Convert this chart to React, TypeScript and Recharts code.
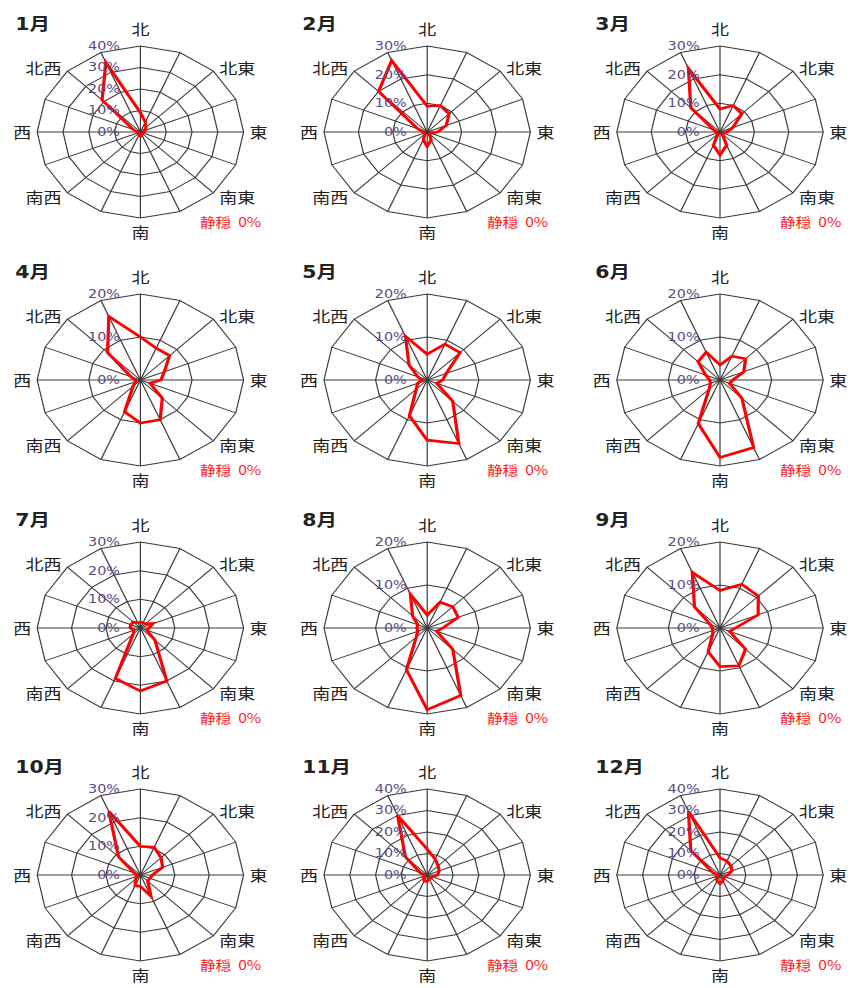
import { RadarChart, Radar, PolarGrid, PolarAngleAxis, PolarRadiusAxis } from 'recharts';

// 16 wind directions, clockwise from north
const directions = ['北', '北北東', '北東', '東北東', '東', '東南東', '南東', '南南東', '南', '南南西', '南西', '西南西', '西', '西北西', '北西', '北北西'];
const shownLabels = ['北', '北東', '東', '南東', '南', '南西', '西', '北西'];

const months = ['1月', '2月', '3月', '4月', '5月', '6月', '7月', '8月', '9月', '10月', '11月', '12月'];
const maxPercent = [40, 30, 30, 20, 20, 20, 30, 20, 20, 30, 40, 40];
const calmPercent = [0, 0, 0, 0, 0, 0, 0, 0, 0, 0, 0, 0];

// frequency (%) per direction, same order as directions
const jan = [9, 5, 3, 2, 1.5, 1, 1, 1, 2, 1.5, 1, 1, 1, 3, 21, 35];
const feb = [9, 10, 9, 6, 3, 1, 1, 3, 5, 3, 1, 1, 1, 3, 20, 27];
const mar = [8, 10, 9, 4, 2, 1, 1, 5, 8, 5, 1, 1, 1, 2, 12, 24];
const apr = [10, 8, 8, 5, 4, 2, 6, 10, 10, 8, 2, 1, 1, 2, 9, 16];
const may = [6, 9, 9, 4, 3, 2, 7, 16, 14, 9, 3, 2, 1, 2, 5, 11];
const jun = [3.5, 6, 7, 5, 2.5, 2, 6, 17, 18, 11, 3, 2, 2, 3, 6, 7];
const jul = [2, 2, 2, 4, 2.5, 2, 6, 20, 22, 19, 3, 2, 3, 3, 3, 2];
const aug = [3, 6.5, 7, 6.5, 3, 2, 7, 17, 19, 10.5, 3, 2, 2, 2, 4, 8.5];
const sep = [8.7, 11, 10.5, 8, 3, 2, 7, 9.5, 9, 6, 2, 1.5, 1.5, 2, 7, 14];
const oct = [10, 10.5, 8.5, 7, 3.5, 3, 3, 8, 4, 4, 2, 1, 1, 2, 9, 24];
const nov = [12, 8, 6, 5, 4, 2, 2, 2, 3, 3, 2, 1, 1, 3, 12, 30];
const dec = [8, 7, 6, 5, 3, 2, 2, 3, 4, 3, 2, 1, 1, 3, 16, 32];

const monthValues = [jan, feb, mar, apr, may, jun, jul, aug, sep, oct, nov, dec];

// layout (unscaled units; whole page is stretched horizontally like the source image)
const SX = 1.2;
const SIZE = 240;
const CX = 120;
const CY = 120;
const R = 86;
const colCenters = [140 / SX, 427 / SX, 720 / SX];
const rowCenters = [132, 380, 628, 875];

const cjk = "'Noto Sans CJK JP', 'DejaVu Sans', sans-serif";

function AngleTick(props: any) {
  const label = props.payload?.value;
  if (!shownLabels.includes(label)) return null;
  const idx = directions.indexOf(label);
  const a = ((90 - idx * 22.5) * Math.PI) / 180;
  const cos = Math.cos(a);
  const sin = Math.sin(a);
  const ex = CX + cos * R;
  const ey = CY - sin * R;
  let x = ex;
  let y = ey;
  let anchor: 'start' | 'middle' | 'end' = 'middle';
  if (Math.abs(cos) < 0.1) {
    y = ey - Math.sign(sin) * (sin > 0 ? 17 : 14);
  } else {
    x = ex + Math.sign(cos) * 5;
    anchor = cos > 0 ? 'start' : 'end';
    if (Math.abs(sin) > 0.1) y = ey - Math.sign(sin) * 4;
  }
  return (
    <text x={x} y={y} textAnchor={anchor} dominantBaseline="central" fontSize={15} fontFamily={cjk} fill="#222">
      {label}
    </text>
  );
}

function RadiusTick(props: any) {
  const { y, payload } = props;
  return (
    <text x={CX - 17} y={y} dy={4} textAnchor="end" fontSize={12} fontFamily="'DejaVu Sans', sans-serif" fill="#5a4a82">
      {payload.value}%
    </text>
  );
}

function Panel({ index }: { index: number }) {
  const cx = colCenters[index % 3];
  const cy = rowCenters[Math.floor(index / 3)];
  const max = maxPercent[index];
  const data = directions.map((d, i) => ({ dir: d, v: monthValues[index][i] }));
  return (
    <>
      <div style={{ position: 'absolute', left: cx - CX, top: cy - CY }}>
        <RadarChart width={SIZE} height={SIZE} data={data} cx={CX} cy={CY} outerRadius={R} margin={{ top: 0, right: 0, bottom: 0, left: 0 }}>
          <PolarGrid gridType="polygon" stroke="#3a3a3a" strokeWidth={1} />
          <PolarAngleAxis dataKey="dir" tick={<AngleTick />} axisLine={false} tickLine={false} />
          <PolarRadiusAxis angle={90} domain={[0, max]} tickCount={max / 10 + 1} axisLine={false} tick={<RadiusTick />} />
          <Radar dataKey="v" stroke="#ff0000" strokeWidth={2.7} fill="none" fillOpacity={0} dot={false} isAnimationActive={false} />
        </RadarChart>
      </div>
      <div style={{ position: 'absolute', left: cx - 104, top: cy - 118, fontSize: 17, lineHeight: '20px', fontWeight: 'bold', fontFamily: "'DejaVu Sans', 'Noto Sans CJK JP', sans-serif", color: '#222', whiteSpace: 'nowrap' }}>
        {months[index]}
      </div>
      <div style={{ position: 'absolute', left: cx + 50, top: cy + 82, fontSize: 13, lineHeight: '16px', fontFamily: cjk, color: '#ff1a1a', whiteSpace: 'nowrap' }}>
        静穏{'\u00a0\u00a0'}{calmPercent[index]}%
      </div>
    </>
  );
}

export default function App() {
  return (
    <div style={{ position: 'absolute', left: 0, top: 0, width: 852, height: 988, background: '#fff', overflow: 'hidden' }}>
      <div style={{ position: 'absolute', left: 0, top: 0, width: 852 / SX, height: 988, transform: `scaleX(${SX})`, transformOrigin: '0 0' }}>
        {months.map((m, i) => (
          <Panel key={m} index={i} />
        ))}
      </div>
    </div>
  );
}
